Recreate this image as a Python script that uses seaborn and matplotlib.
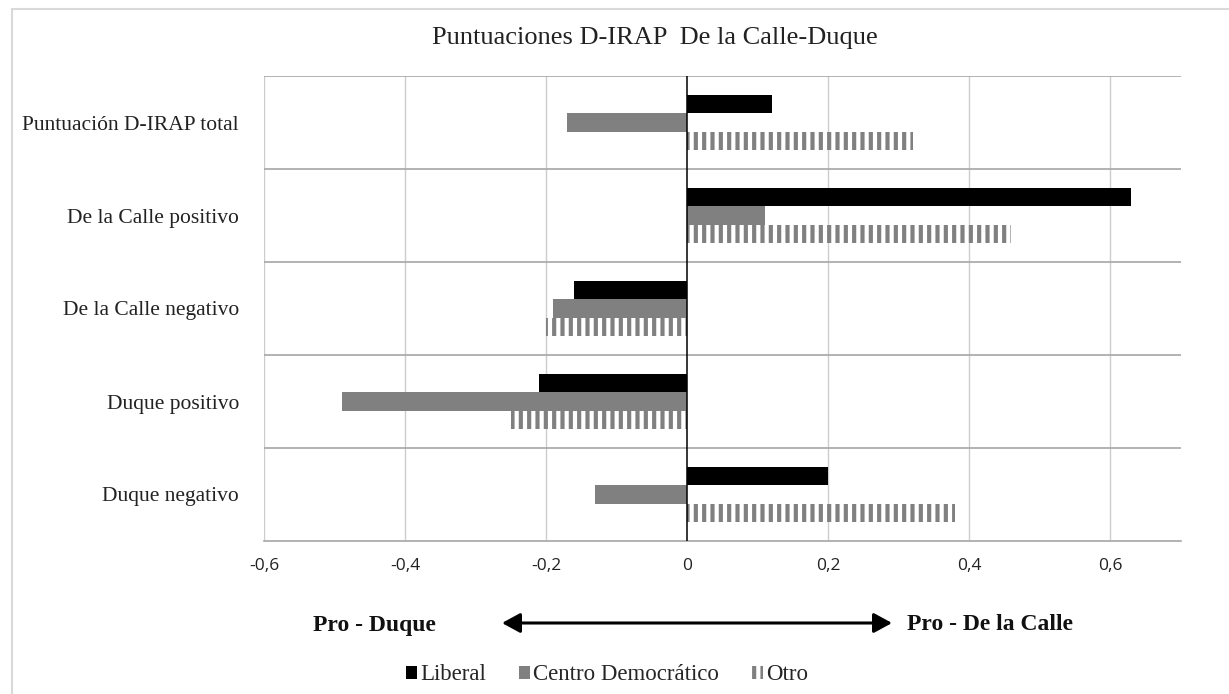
import matplotlib
matplotlib.use("Agg")
import matplotlib.pyplot as plt
import seaborn as sns
import pandas as pd
from matplotlib.lines import Line2D
from matplotlib.patches import FancyArrowPatch

categories = ["Puntuación D-IRAP total", "De la Calle positivo", "De la Calle negativo",
              "Duque positivo", "Duque negativo"]
groups = ["Liberal", "Centro Democrático", "Otro"]
liberal = [0.12, 0.63, -0.16, -0.21, 0.20]
centro = [-0.17, 0.11, -0.19, -0.49, -0.13]
otro = [0.32, 0.46, -0.20, -0.25, 0.38]
xticks = [-0.6, -0.4, -0.2, 0, 0.2, 0.4, 0.6]
xtick_labels = ["-0,6", "-0,4", "-0,2", "0", "0,2", "0,4", "0,6"]

rows = []
for g, vals in zip(groups, [liberal, centro, otro]):
    for c, v in zip(categories, vals):
        rows.append({"cat": c, "grupo": g, "valor": v})
df = pd.DataFrame(rows)

sns.set_theme(style="white")
plt.rcParams["font.family"] = ["Liberation Serif", "DejaVu Serif"]
plt.rcParams["hatch.linewidth"] = 3.0

W, H = 1229, 694
fig = plt.figure(figsize=(W / 100, H / 100), dpi=100)
ax = fig.add_axes([264 / W, 1 - 541 / H, (1180.5 - 264) / W, (541 - 76) / H])

palette = {"Liberal": "#000000", "Centro Democrático": "#808080", "Otro": "#ffffff"}
sns.barplot(data=df, y="cat", x="valor", hue="grupo", order=categories, hue_order=groups,
            palette=palette, orient="h", width=0.6, gap=0, ax=ax, legend=False,
            linewidth=0, saturation=1)

# hatch for "Otro"
otro_container = ax.containers[2]
for p in otro_container:
    p.set_facecolor("white")
    p.set_edgecolor("#808080")
    p.set_linewidth(0)
    p.set_hatch("||")

ax.set_xlim(-0.6, 0.7)
ax.set_ylim(4.5, -0.5)
ax.set_xlabel("")
ax.set_ylabel("")
ax.set_xticks(xticks)
ax.set_xticklabels(xtick_labels, fontfamily="Open Sans", fontsize=12.5, color="#222222")
ax.tick_params(axis="x", length=0, pad=12)
ax.tick_params(axis="y", length=0, pad=18, labelsize=15.5, colors="#222222")
for lbl in ax.get_yticklabels():
    lbl.set_fontfamily(["Liberation Serif"])

for x in xticks:
    if x != 0:
        ax.axvline(x, color="#cccccc", lw=1.0, zorder=0)
for y in [-0.5, 0.5, 1.5, 2.5, 3.5]:
    ax.axhline(y, color="#a6a6a6", lw=1.2, zorder=0.5)
ax.axvline(0, color="#000000", lw=1.1, zorder=3)

for s in ["left", "right", "top"]:
    ax.spines[s].set_visible(False)
ax.spines["bottom"].set_color("#a6a6a6")
ax.spines["bottom"].set_linewidth(1.2)

# title
fig.text(654.6 / W, 1 - 38 / H, "Puntuaciones D-IRAP  De la Calle-Duque", ha="center", va="center",
         fontsize=19, color="#222222")

# arrow and annotations
fig.text(374 / W, 1 - 625 / H, "Pro - Duque", ha="center", va="center", fontsize=17,
         fontweight="bold", color="#111111")
fig.text(990 / W, 1 - 625 / H, "Pro - De la Calle", ha="center", va="center", fontsize=17,
         fontweight="bold", color="#111111")
arr = FancyArrowPatch((502 / W, 1 - 623 / H), (892 / W, 1 - 623 / H),
                      transform=fig.transFigure, arrowstyle="<|-|>,head_length=1.1,head_width=0.6",
                      mutation_scale=10, lw=2.2, color="black", shrinkA=0, shrinkB=0)
fig.patches.append(arr)

# legend
handles = [ax.containers[0][0], ax.containers[1][0], ax.containers[2][0]]
leg = fig.legend(handles, groups, loc="center", bbox_to_anchor=(607 / W, 1 - 675 / H),
                 ncol=3, frameon=False, fontsize=16.5, handlelength=0.5, handleheight=0.5,
                 handletextpad=0.15, columnspacing=1.4)

# outer chart border (left and top)
fig.add_artist(Line2D([12 / W, 12 / W], [0, 1 - 9 / H], transform=fig.transFigure,
                      color="#d9d9d9", lw=1.5))
fig.add_artist(Line2D([12 / W, 1], [1 - 9 / H, 1 - 9 / H], transform=fig.transFigure,
                      color="#d9d9d9", lw=1.5))

fig.savefig("out.png", dpi=100, facecolor="white")
